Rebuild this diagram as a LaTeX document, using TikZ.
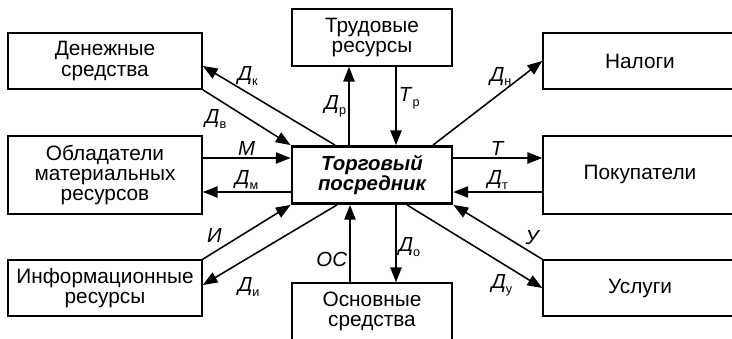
\documentclass[tikz,border=0pt]{standalone}
\usepackage{fontspec}
\setmainfont{Liberation Sans}
\usetikzlibrary{arrows.meta}

\newcommand{\flow}[2]{\textit{#1}\raisebox{-0.45ex}{\fontsize{9}{9}\selectfont #2}}

\begin{document}
\begin{tikzpicture}[
    box/.style={draw,line width=1.1pt,minimum width=4.85cm,minimum height=1.4cm,
      inner sep=0pt,align=center,font=\fontsize{14.8}{14.5}\selectfont},
    midbox/.style={box,minimum width=4cm,minimum height=1.425cm},
    hub/.style={midbox,line width=2pt,font=\fontsize{14.5}{14.5}\selectfont\bfseries\itshape},
    link/.style={line width=1.1pt,-{Triangle[length=10.5pt,width=8pt]}},
    lbl/.style={inner sep=1.5pt,font=\fontsize{14.5}{14.5}\selectfont}
  ]
  \useasboundingbox (0,0) rectangle (18.3,8.45);
  \clip (0,0) rectangle (18.3,8.45);

  % left column
  \node[box] (den) at (2.625,6.925) {Денежные\\средства};
  \node[box,minimum height=1.95cm] (obl) at (2.625,4.075) {Обладатели\\материальных\\ресурсов};
  \node[box] (inf) at (2.625,1.25) {Информационные\\ресурсы};

  % middle column
  \node[midbox] (trud) at (9.3,7.5125) {Трудовые\\ресурсы};
  \node[hub] (ctr) at (9.3,4.075) {Торговый\\посредник};
  \node[midbox] (osn) at (9.3,0.6625) {Основные\\средства};

  % right column
  \node[box] (nal) at (16,6.925) {Налоги};
  \node[box,minimum height=1.95cm] (pok) at (16,4.075) {Покупатели};
  \node[box] (usl) at (16,1.25) {Услуги};

  % left side
  \draw[link] ([xshift=-0.925cm]ctr.north) -- ([yshift=-0.125cm]den.east)
    node[lbl,pos=0.66,above=3pt] {\flow{Д}{к}};
  \draw[link] (den.south east) -- (ctr.north west)
    node[lbl,pos=0.3,below left] {\flow{Д}{в}};
  \draw[link] ([yshift=0.425cm]obl.east) -- ([yshift=0.425cm]ctr.west)
    node[lbl,midway,above] {\textit{М}};
  \draw[link] ([yshift=-0.425cm]ctr.west) -- ([yshift=-0.425cm]obl.east)
    node[lbl,midway,above] {\flow{Д}{м}};
  \draw[link] (inf.north east) -- (ctr.south west)
    node[lbl,pos=0.25,above left] {\textit{И}};
  \draw[link] ([xshift=-0.875cm]ctr.south) -- ([yshift=0.075cm]inf.east)
    node[lbl,pos=0.8,below right,xshift=4pt,yshift=-4pt] {\flow{Д}{и}};

  % top and bottom
  \draw[link] ([xshift=-0.575cm]ctr.north) -- ([xshift=-0.575cm]trud.south)
    node[lbl,midway,left] {\flow{Д}{р}};
  \draw[link] ([xshift=0.6cm]trud.south) -- ([xshift=0.6cm]ctr.north)
    node[lbl,pos=0.4,right] {\flow{Т}{р}};
  \draw[link] ([xshift=0.6cm]ctr.south) -- ([xshift=0.6cm]osn.north)
    node[lbl,pos=0.55,right] {\flow{Д}{о}};
  \draw[link] ([xshift=-0.55cm]osn.north) -- ([xshift=-0.55cm]ctr.south)
    node[lbl,pos=0.29,left] {\textit{ОС}};

  % right side
  \draw[link] ([xshift=1.525cm]ctr.north) -- (nal.west)
    node[lbl,pos=0.62,above=3pt] {\flow{Д}{н}};
  \draw[link] ([yshift=0.425cm]ctr.east) -- ([yshift=0.425cm]pok.west)
    node[lbl,midway,above] {\textit{Т}};
  \draw[link] ([yshift=-0.425cm]pok.west) -- ([yshift=-0.425cm]ctr.east)
    node[lbl,midway,above] {\flow{Д}{т}};
  \draw[link] (usl.north west) -- (ctr.south east)
    node[lbl,pos=0.22,above right] {\textit{У}};
  \draw[link] ([xshift=0.875cm]ctr.south) -- (usl.west)
    node[lbl,pos=0.8,below left] {\flow{Д}{у}};
\end{tikzpicture}
\end{document}
